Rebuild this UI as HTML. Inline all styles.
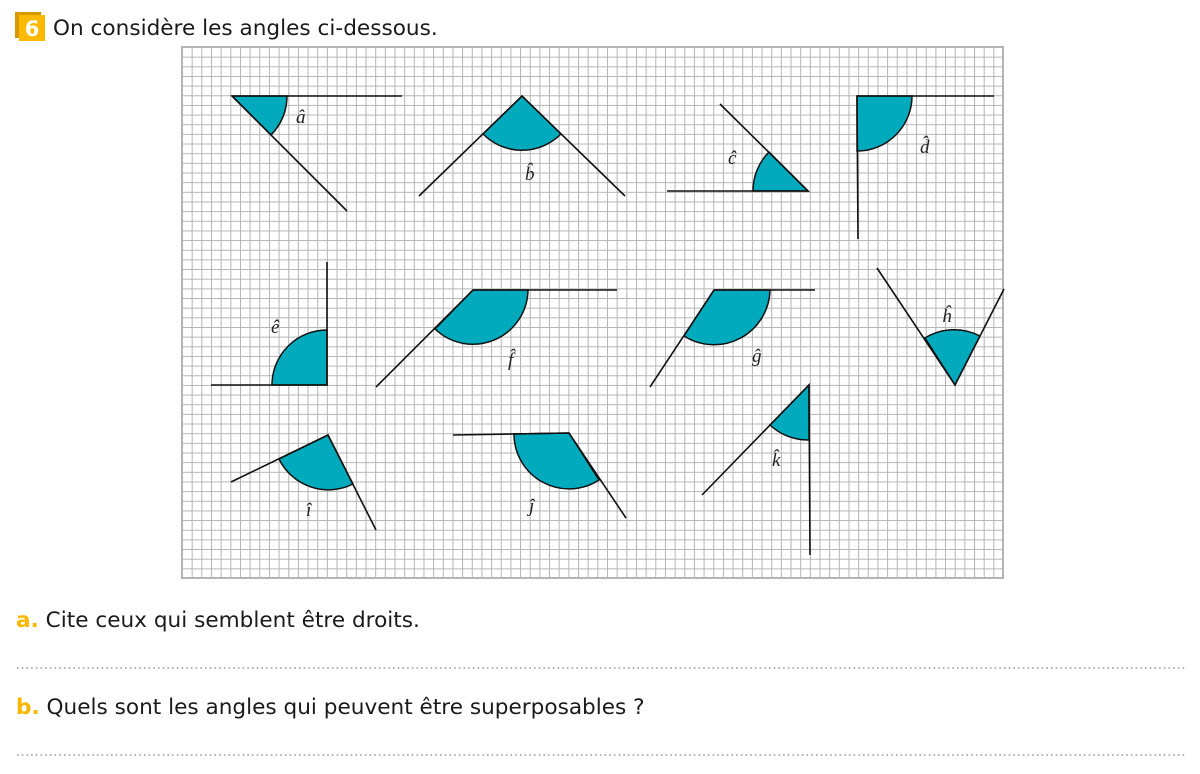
<!DOCTYPE html>
<html><head><meta charset="utf-8"><style>
html,body{margin:0;padding:0;background:#fff;}
svg{display:block;}
.t{font-family:"DejaVu Sans","Liberation Sans",sans-serif;font-size:21.6px;fill:#1a1a1a;}
.o{fill:#f9b700;font-weight:bold;}
.l{font-family:"Liberation Serif",serif;font-style:italic;font-size:19px;fill:#222;}
.s{fill:#00aabd;stroke:#111;stroke-width:1.5;}
.r{stroke:#111;stroke-width:1.6;fill:none;}
</style></head><body>
<svg width="1200" height="774" viewBox="0 0 1200 774" xmlns="http://www.w3.org/2000/svg">
<defs>
<pattern id="g" x="182" y="47" width="9.659" height="9.655" patternUnits="userSpaceOnUse">
<path d="M0 0V9.655M0 0H9.659" stroke="#b4b4b4" stroke-width="2" fill="none"/>
</pattern>
</defs>
<rect x="15" y="12" width="26" height="26" fill="#d89800"/>
<rect x="19" y="15" width="26" height="26" fill="#fbb900"/>
<text x="32" y="36" text-anchor="middle" font-family="DejaVu Sans,sans-serif" font-weight="bold" font-size="21" fill="#fff">6</text>
<text class="t" x="53" y="35">On considère les angles ci-dessous.</text>

<rect x="182" y="47" width="821" height="531" fill="url(#g)"/>
<rect x="182" y="47" width="821" height="531" fill="none" stroke="#b4b4b4" stroke-width="2"/>

<path class="s" d="M232 96L287 96A55 55 0 0 1 271 135Z"/>
<path class="r" d="M232 96H402M232 96L347 211"/>
<text class="l" x="296" y="123">â</text>
<path class="s" d="M522 96L483 134A55 55 0 0 0 561 134Z"/>
<path class="r" d="M419 196L522 96L625 196"/>
<text class="l" x="525" y="180">b̂</text>
<path class="s" d="M808 191L753 191A55 55 0 0 1 769 152Z"/>
<path class="r" d="M667 191H808L720 104"/>
<text class="l" x="728" y="164">ĉ</text>
<path class="s" d="M857 96L912 96A55 55 0 0 1 857 151Z"/>
<path class="r" d="M994 96H857L858 239"/>
<text class="l" x="920" y="153">d̂</text>
<path class="s" d="M327 385L327 330A55 55 0 0 0 272 385Z"/>
<path class="r" d="M327 262V385H211"/>
<text class="l" x="271" y="333">ê</text>
<path class="s" d="M473 290L528 290A55 55 0 0 1 435 329Z"/>
<path class="r" d="M617 290H473L376 387"/>
<text class="l" x="508" y="366">f̂</text>
<path class="s" d="M714 290L770 290A56 56 0 0 1 684 336Z"/>
<path class="r" d="M815 290H714L650 387"/>
<text class="l" x="752" y="362">ĝ</text>
<path class="s" d="M955 385L925 338A56 56 0 0 1 980 336Z"/>
<path class="r" d="M877 268L955 385L1004 289"/>
<text class="l" x="942" y="322">ĥ</text>
<path class="s" d="M328 435L279 459A55 55 0 0 0 353 484Z"/>
<path class="r" d="M231 482L328 435L376 530"/>
<text class="l" x="306" y="516">î</text>
<path class="s" d="M569 433L514 434A55 55 0 0 0 599 480Z"/>
<path class="r" d="M453 435L569 433L626 518"/>
<text class="l" x="529" y="512">ĵ</text>
<path class="s" d="M809 385L770 425A55 55 0 0 0 809 440Z"/>
<path class="r" d="M702 495L809 385L810 555"/>
<text class="l" x="772" y="466">k̂</text>

<text class="t" x="16" y="627"><tspan class="o">a.</tspan> Cite ceux qui semblent être droits.</text>
<line x1="17" y1="668" x2="1185" y2="668" stroke="#9a9a9a" stroke-width="1.6" stroke-dasharray="1.6 3.1"/>
<text class="t" x="16" y="714"><tspan class="o">b.</tspan> Quels sont les angles qui peuvent être superposables ?</text>
<line x1="17" y1="755" x2="1185" y2="755" stroke="#9a9a9a" stroke-width="1.6" stroke-dasharray="1.6 3.1"/>
</svg>
</body></html>
